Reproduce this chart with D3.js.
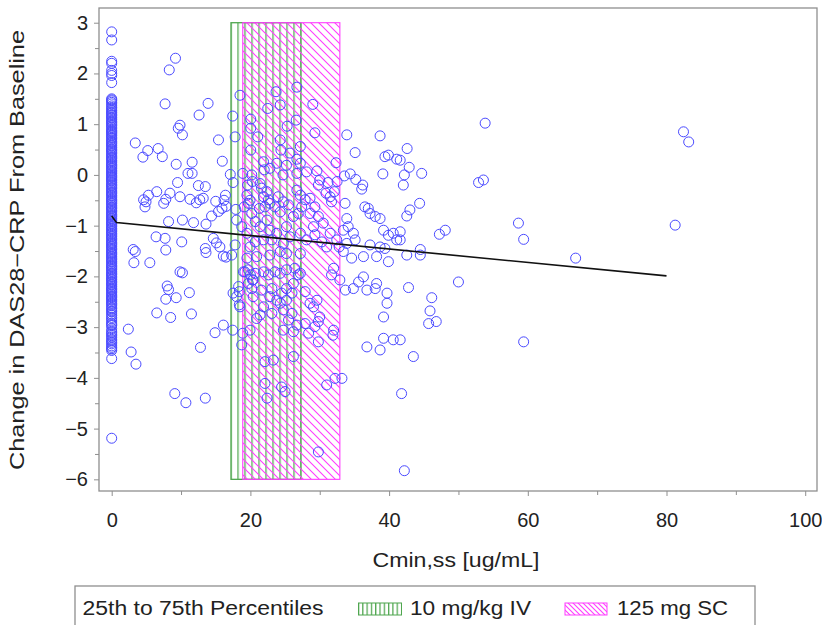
<!DOCTYPE html>
<html>
<head>
<meta charset="utf-8">
<script src="https://cdn.jsdelivr.net/npm/d3@7"></script>
<style>
  body { margin: 0; background: #fff; }
  text { font-family: "Liberation Sans", Arial, Helvetica, sans-serif; fill: #222; }
</style>
</head>
<body>
<svg id="chart" width="822" height="625"></svg>
<script>
// Axis ticks
const xTicks = [0, 20, 40, 60, 80, 100];
const xMinorTicks = [10, 30, 50, 70, 90];
const yTicks = [3, 2, 1, 0, -1, -2, -3, -4, -5, -6];
const yMinorTicks = [2.5, 1.5, 0.5, -0.5, -1.5, -2.5, -3.5, -4.5, -5.5];

// Interquartile ranges of Cmin,ss by regimen, drawn as hatched bands
const ivRange = [17.2, 27.3];   // 10 mg/kg IV
const scRange = [18.9, 32.9];   // 125 mg SC
const bandSpan = [-6, 3];

// Fitted regression line
const fitX = [0, 0.7, 80];
const fitY = [-0.81, -0.94, -1.99];

// Subjects with Cmin,ss = 0 (change from baseline)
const zeroConcChange = [
  2.82, 2.66, 2.24, 2.2, 2.06, 2.0, 1.96, 1.82, 1.5, 1.48, 1.46, 1.43, 1.4, 1.36, 1.33, 1.3,
  1.27, 1.24, 1.22, 1.19, 1.17, 1.14, 1.12, 1.09, 1.06, 1.04, 1.02, 0.99, 0.97, 0.94, 0.91,
  0.88, 0.86, 0.84, 0.82, 0.79, 0.77, 0.74, 0.72, 0.69, 0.66, 0.64, 0.62, 0.59, 0.57, 0.54,
  0.51, 0.49, 0.47, 0.44, 0.42, 0.39, 0.36, 0.34, 0.32, 0.29, 0.27, 0.24, 0.21, 0.19, 0.17,
  0.14, 0.12, 0.09, 0.07, 0.04, 0.02, -0.01, -0.03, -0.05, -0.08, -0.1, -0.12, -0.15, -0.18,
  -0.2, -0.22, -0.25, -0.27, -0.3, -0.33, -0.35, -0.37, -0.4, -0.42, -0.45, -0.48, -0.5,
  -0.52, -0.55, -0.57, -0.6, -0.63, -0.65, -0.67, -0.7, -0.72, -0.75, -0.78, -0.8, -0.82,
  -0.85, -0.87, -0.9, -0.92, -0.95, -0.97, -1.0, -1.02, -1.05, -1.07, -1.1, -1.12, -1.15,
  -1.17, -1.2, -1.22, -1.25, -1.27, -1.3, -1.33, -1.35, -1.37, -1.4, -1.42, -1.45, -1.47,
  -1.5, -1.53, -1.55, -1.57, -1.6, -1.62, -1.65, -1.67, -1.7, -1.72, -1.75, -1.78, -1.8,
  -1.82, -1.85, -1.87, -1.9, -1.93, -1.95, -1.97, -2.0, -2.02, -2.05, -2.07, -2.1, -2.12,
  -2.15, -2.17, -2.2, -2.23, -2.25, -2.27, -2.3, -2.32, -2.35, -2.38, -2.4, -2.42, -2.45,
  -2.47, -2.5, -2.53, -2.55, -2.58, -2.62, -2.64, -2.68, -2.7, -2.74, -2.77, -2.81, -2.84,
  -2.88, -2.92, -2.95, -2.97, -3.03, -3.08, -3.11, -3.14, -3.17, -3.2, -3.24, -3.27, -3.3,
  -3.33, -3.37, -3.4, -3.43, -3.46, -3.62, -5.19
];

// Subjects with measurable Cmin,ss: [Cmin,ss (ug/mL), change from baseline]
const points = [
  [9.2, 2.3], [8.3, 2.07], [7.7, 1.4], [13.9, 1.41], [12.6, 1.18], [18.5, 1.57], [17.45, 1.16],
  [9.85, 0.98], [10.2, 0.79], [9.6, 0.92], [15.4, 0.69], [17.8, 0.75], [3.4, 0.63], [5.2, 0.48],
  [6.7, 0.52], [7.3, 0.36], [4.5, 0.35], [15.95, 0.27], [11.6, 0.25], [9.3, 0.21], [11.0, 0.03],
  [11.6, 0.03], [17.1, 0.01], [9.5, -0.15], [17.5, -0.15], [13.5, -0.23], [12.5, -0.21],
  [6.5, -0.33], [8.4, -0.36], [5.3, -0.4], [4.6, -0.49], [4.95, -0.53], [7.8, -0.48],
  [9.85, -0.43], [11.3, -0.48], [12.7, -0.49], [12.2, -0.55], [13.2, -0.46], [7.5, -0.56],
  [4.8, -0.63], [15.0, -0.52], [16.4, -0.4], [16.2, -0.5], [15.9, -0.66], [16.5, -0.62],
  [15.4, -0.72], [17.9, -0.68], [19.1, -0.63], [14.4, -0.81], [8.2, -0.92], [10.2, -0.89],
  [11.8, -0.94], [13.6, -0.97], [6.4, -1.22], [7.7, -1.25], [10.1, -1.32], [14.65, -1.25],
  [15.1, -1.34], [15.6, -1.42], [18.75, -1.02], [3.1, -1.47], [13.5, -1.45], [17.8, -1.38],
  [3.4, -1.51], [3.2, -1.73], [5.5, -1.73], [7.8, -1.48], [13.6, -1.53], [16.1, -1.6],
  [17.3, -1.58], [9.85, -1.91], [10.2, -1.93], [8.0, -2.19], [8.2, -2.26], [7.8, -2.45],
  [9.3, -2.42], [11.2, -2.32], [6.5, -2.72], [8.5, -2.81], [11.5, -2.74], [2.4, -3.04],
  [14.9, -3.11], [16.1, -2.96], [17.45, -3.06], [18.9, -3.12], [19.95, -3.06], [2.8, -3.49],
  [3.5, -3.73], [12.8, -3.4], [18.75, -3.35], [9.1, -4.31], [10.7, -4.49], [13.5, -4.4],
  [18.5, -2.6], [19.0, -1.91], [19.7, -1.87], [20.3, -2.07],
  [23.7, 1.64], [26.7, 1.73], [22.5, 1.31], [24.3, 1.38], [29.0, 1.39], [20.05, 1.1],
  [20.05, 0.92], [26.6, 1.08], [25.3, 0.96], [29.3, 0.83], [21.06, 0.75], [24.3, 0.69],
  [27.2, 0.56], [20.05, 0.49], [24.4, 0.49], [25.7, 0.43], [23.8, 0.23], [25.2, 0.19],
  [26.7, 0.31], [27.2, 0.23], [32.35, 0.24], [21.9, 0.26], [22.0, 0.1], [22.8, 0.13],
  [18.9, 0.03], [20.2, 0.0], [20.3, -0.13], [24.7, 0.0], [26.7, 0.03], [28.1, 0.06],
  [29.6, 0.08], [30.0, -0.1], [31.2, -0.15], [32.5, -0.13], [32.1, -0.33], [29.8, -0.2],
  [30.9, -0.36], [31.5, -0.43], [31.7, -0.53], [19.6, -0.2], [19.5, -0.4], [19.95, -0.5],
  [19.7, -0.56], [21.4, -0.17], [21.6, -0.26], [22.4, -0.33], [21.9, -0.43], [22.6, -0.49],
  [22.8, -0.56], [22.1, -0.63], [21.3, -0.66], [24.0, -0.43], [24.75, -0.53], [25.5, -0.59],
  [23.55, -0.63], [24.3, -0.73], [26.7, -0.3], [27.2, -0.4], [27.9, -0.49], [27.4, -0.63],
  [26.9, -0.76], [26.2, -0.82], [28.6, -0.46], [29.3, -0.63], [28.6, -0.76], [29.8, -0.82],
  [30.5, -0.95], [29.1, -1.02], [18.0, -0.89], [19.5, -1.15], [20.2, -0.76], [20.7, -0.92],
  [21.4, -1.02], [22.4, -0.89], [22.8, -1.09], [23.8, -1.15], [25.2, -1.02], [25.7, -1.22],
  [24.75, -1.35], [23.1, -1.28], [21.9, -1.28], [20.7, -1.32], [19.95, -1.42], [27.2, -1.15],
  [28.1, -1.28], [29.3, -1.18], [30.3, -1.32], [31.5, -1.15], [32.45, -1.28], [31.0, -1.42],
  [33.9, 0.79], [35.1, 0.44], [38.7, 0.77], [39.4, 0.36], [39.9, 0.39], [41.1, 0.31],
  [39.1, 0.02], [36.05, -0.28], [33.55, -0.02], [34.4, 0.02], [35.2, -0.09], [36.2, -0.2],
  [33.65, -0.56], [36.5, -0.63], [37.0, -0.66], [37.25, -0.76], [38.0, -0.82], [38.7, -0.86],
  [39.2, -1.09], [39.9, -1.19], [40.6, -1.15], [41.1, -1.28], [33.9, -0.86], [34.1, -1.02],
  [34.85, -1.15], [35.1, -1.28], [33.4, -1.09], [33.9, -1.35], [32.8, -1.42], [37.25, -1.38],
  [38.7, -1.42], [39.4, -1.45],
  [16.5, -1.62], [19.5, -1.64], [20.9, -1.61], [22.8, -1.58], [24.3, -1.51], [25.2, -1.55],
  [27.2, -1.55], [19.2, -1.91], [20.0, -1.97], [20.7, -1.94], [20.4, -2.07], [19.7, -2.14],
  [21.9, -1.91], [22.6, -1.97], [23.55, -1.91], [24.3, -1.94], [25.2, -1.87], [26.4, -1.84],
  [26.9, -1.97], [27.2, -1.94], [18.3, -2.2], [17.5, -2.33], [18.4, -2.3], [18.0, -2.4],
  [18.4, -2.56], [20.2, -2.24], [20.4, -2.4], [21.6, -2.27], [23.1, -2.24], [22.8, -2.4],
  [24.5, -2.33], [25.2, -2.24], [26.2, -2.14], [26.0, -2.33], [23.8, -2.47], [24.3, -2.53],
  [25.2, -2.47], [21.9, -2.6], [23.1, -2.73], [24.75, -2.66], [26.0, -2.73], [25.5, -2.86],
  [21.4, -2.76], [20.9, -2.83], [24.75, -3.06], [26.2, -3.09], [26.7, -2.96], [27.9, -2.93],
  [28.4, -3.12], [29.3, -2.99], [29.8, -2.89], [30.0, -2.8], [29.1, -2.6], [29.6, -2.47],
  [28.6, -2.53], [27.9, -2.3], [29.8, -3.29], [32.0, -3.06], [31.9, -3.16], [32.0, -1.84],
  [31.7, -1.97], [32.9, -2.07], [33.7, -2.27], [34.85, -2.24], [35.6, -2.11], [36.3, -2.01],
  [36.8, -2.27], [38.0, -2.24], [38.2, -2.14], [39.7, -2.33], [39.7, -2.53], [39.2, -2.8],
  [39.9, -1.71], [38.2, -1.61], [36.3, -1.61], [34.6, -1.64], [33.4, -1.51], [36.8, -3.39],
  [38.7, -3.45], [39.2, -3.22], [40.6, -3.25], [31.0, -4.14], [32.2, -4.01], [33.2, -4.01],
  [22.1, -3.68], [23.3, -3.65], [26.2, -3.58], [22.1, -4.11], [24.5, -4.18], [25.0, -4.27],
  [22.4, -4.4], [29.8, -5.46],
  [53.85, 1.02], [42.6, 0.52], [41.6, 0.29], [42.9, 0.15], [42.2, 0.0], [42.05, -0.2],
  [44.7, 0.03], [52.9, -0.15], [53.6, -0.1], [44.4, -0.56], [43.0, -0.69], [42.55, -0.81],
  [58.65, -0.95], [59.4, -1.27], [47.25, -1.17], [48.1, -1.09], [41.6, -1.12], [41.6, -1.28],
  [44.5, -1.47], [42.55, -1.58], [44.5, -1.58], [66.9, -1.64], [42.8, -2.22], [50.0, -2.11],
  [46.15, -2.42], [45.9, -2.68], [45.7, -2.93], [46.8, -2.89], [41.6, -3.25], [59.4, -3.29],
  [43.5, -3.58], [41.8, -4.31], [42.2, -5.83],
  [82.45, 0.85], [83.2, 0.65], [81.25, -0.99]
];

const legendTitle = "25th to 75th Percentiles";
const legendLabels = ["10 mg/kg IV", "125 mg SC"];

const blue = "#4a4aff", green = "#4fa64f", magenta = "#ff3cff", frameGrey = "#8f8f8f";

const svg = d3.select("#chart");
const plot = { left: 99, right: 817, top: 8, bottom: 491 };

const x = d3.scaleLinear().domain([-1.83, 101.7]).range([plot.left, plot.right]);
const y = d3.scaleLinear().domain([-6.23, 3.29]).range([plot.bottom, plot.top]);

// Hatch patterns
const defs = svg.append("defs");
function vPattern(id, spacing, x0) {
  const p = defs.append("pattern").attr("id", id).attr("patternUnits", "userSpaceOnUse")
    .attr("width", spacing).attr("height", 10)
    .attr("patternTransform", `translate(${x0 - 0.6},0)`);
  p.append("line").attr("x1", 0.6).attr("x2", 0.6).attr("y1", 0).attr("y2", 10)
    .attr("stroke", green).attr("stroke-width", 1.3);
}
function dPattern(id, s) {
  const p = defs.append("pattern").attr("id", id).attr("patternUnits", "userSpaceOnUse")
    .attr("width", s).attr("height", s);
  p.append("path")
    .attr("d", `M0,0L${s},${s}M${-s / 4},${s * 0.75}L${s / 4},${s * 1.25}M${s * 0.75},${-s / 4}L${s * 1.25},${s / 4}`)
    .attr("stroke", magenta).attr("stroke-width", 1.1);
}
vPattern("ivHatch", 7, x(ivRange[0]));
dPattern("scHatch", 8);

// Percentile bands
const bands = svg.append("g");
bands.append("rect")
  .attr("x", x(ivRange[0])).attr("y", y(bandSpan[1]))
  .attr("width", x(ivRange[1]) - x(ivRange[0])).attr("height", y(bandSpan[0]) - y(bandSpan[1]))
  .attr("fill", "url(#ivHatch)").attr("stroke", green).attr("stroke-width", 1.3);
bands.append("rect")
  .attr("x", x(scRange[0])).attr("y", y(bandSpan[1]))
  .attr("width", x(scRange[1]) - x(scRange[0])).attr("height", y(bandSpan[0]) - y(bandSpan[1]))
  .attr("fill", "url(#scHatch)").attr("stroke", magenta).attr("stroke-width", 1.1);

// Scatter
const marks = svg.append("g").attr("fill", "none").attr("stroke", blue).attr("stroke-width", 1);
marks.selectAll("circle.zero").data(zeroConcChange).join("circle")
  .attr("class", "zero").attr("cx", x(0)).attr("cy", d => y(d)).attr("r", 5);
marks.selectAll("circle.pt").data(points).join("circle")
  .attr("class", "pt").attr("cx", d => x(d[0])).attr("cy", d => y(d[1])).attr("r", 5);

// Regression line
svg.append("path")
  .datum(d3.zip(fitX, fitY))
  .attr("d", d3.line().x(d => x(d[0])).y(d => y(d[1])))
  .attr("fill", "none").attr("stroke", "#111").attr("stroke-width", 1.6);

// Axes
const fmt = d => d < 0 ? "\u2212" + Math.abs(d) : String(d);
function styleAxis(g) {
  g.select(".domain").remove();
  g.selectAll(".tick line").attr("stroke", frameGrey);
  g.selectAll(".tick text").style("font-size", "20px").attr("fill", "#222");
}
svg.append("g").attr("transform", `translate(0,${plot.bottom})`)
  .call(d3.axisBottom(x).tickValues(xTicks).tickFormat(fmt).tickSize(5).tickPadding(17))
  .call(styleAxis);
svg.append("g").attr("transform", `translate(0,${plot.bottom})`)
  .call(d3.axisBottom(x).tickValues(xMinorTicks).tickFormat("").tickSize(4))
  .call(styleAxis);
svg.append("g").attr("transform", `translate(${plot.left},0)`)
  .call(d3.axisLeft(y).tickValues(yTicks).tickFormat(fmt).tickSize(5).tickPadding(6))
  .call(styleAxis);
svg.append("g").attr("transform", `translate(${plot.left},0)`)
  .call(d3.axisLeft(y).tickValues(yMinorTicks).tickFormat("").tickSize(4))
  .call(styleAxis);

// Frame
svg.append("rect")
  .attr("x", plot.left).attr("y", plot.top)
  .attr("width", plot.right - plot.left).attr("height", plot.bottom - plot.top)
  .attr("fill", "none").attr("stroke", frameGrey).attr("stroke-width", 1.3);

// Axis titles
svg.append("text")
  .attr("x", (plot.left + plot.right) / 2 - 2).attr("y", 567)
  .attr("text-anchor", "middle").style("font-size", "20px")
  .attr("textLength", 167).attr("lengthAdjust", "spacingAndGlyphs")
  .text("Cmin,ss [ug/mL]");
svg.append("text")
  .attr("transform", "translate(24,250) rotate(-90)")
  .attr("text-anchor", "middle").style("font-size", "20px")
  .attr("textLength", 440).attr("lengthAdjust", "spacingAndGlyphs")
  .text("Change in DAS28\u2212CRP From Baseline");

// Legend
const legend = svg.append("g");
legend.append("rect").attr("x", 75).attr("y", 586).attr("width", 680).attr("height", 60)
  .attr("fill", "none").attr("stroke", frameGrey).attr("stroke-width", 1.3);
legend.append("text").attr("x", 82.5).attr("y", 615).style("font-size", "20px")
  .attr("textLength", 241).attr("lengthAdjust", "spacingAndGlyphs").text(legendTitle);

vPattern("ivSwatch", 4.3, 358.5);
dPattern("scSwatch", 5);
legend.append("rect").attr("x", 358.5).attr("y", 603).attr("width", 43).attr("height", 12)
  .attr("fill", "url(#ivSwatch)").attr("stroke", green).attr("stroke-width", 1);
legend.append("text").attr("x", 410).attr("y", 615).style("font-size", "20px")
  .attr("textLength", 121).attr("lengthAdjust", "spacingAndGlyphs").text(legendLabels[0]);
legend.append("rect").attr("x", 565).attr("y", 603).attr("width", 42).attr("height", 12)
  .attr("fill", "url(#scSwatch)").attr("stroke", magenta).attr("stroke-width", 1);
legend.append("text").attr("x", 617).attr("y", 615).style("font-size", "20px")
  .attr("textLength", 111).attr("lengthAdjust", "spacingAndGlyphs").text(legendLabels[1]);
</script>
</body>
</html>
